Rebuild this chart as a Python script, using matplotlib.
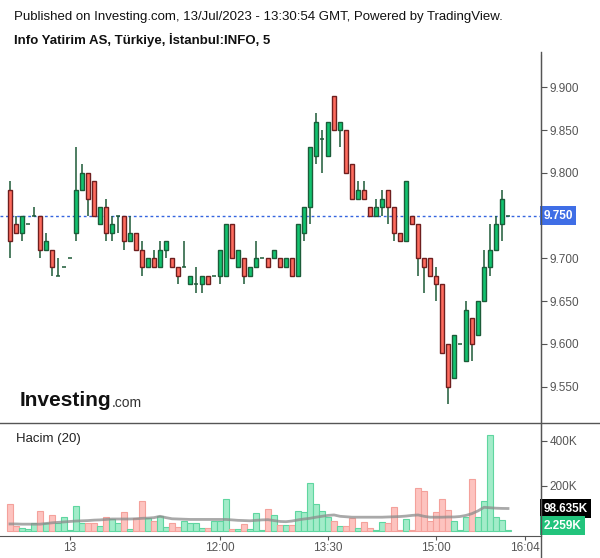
import matplotlib
matplotlib.use("Agg")
import matplotlib.pyplot as plt
from matplotlib.lines import Line2D
from matplotlib.transforms import blended_transform_factory

plt.rcParams['font.family'] = ['Liberation Sans', 'DejaVu Sans']

# 5 minute candles, Info Yatirim (INFO), 12-13 Jul 2023
opens = [9.78, 9.74, 9.73, 9.74, 9.75, 9.75, 9.71, 9.71, 9.68, 9.69,
         9.70, 9.73, 9.78, 9.80, 9.79, 9.74, 9.76, 9.73, 9.75, 9.75,
         9.72, 9.73, 9.71, 9.69, 9.70, 9.69, 9.71, 9.70, 9.69, 9.69,
         9.67, 9.67, 9.67, 9.68, 9.68, 9.68, 9.68, 9.74, 9.69, 9.70,
         9.68, 9.69, 9.70, 9.70, 9.70, 9.70, 9.69, 9.70, 9.68, 9.73,
         9.76, 9.82, 9.84, 9.82, 9.89, 9.85, 9.85, 9.81, 9.77, 9.78,
         9.76, 9.75, 9.76, 9.78, 9.76, 9.73, 9.72, 9.75, 9.74, 9.70,
         9.70, 9.68, 9.67, 9.60, 9.56, 9.60, 9.58, 9.63, 9.61, 9.65,
         9.69, 9.71, 9.74, 9.75]
highs = [9.79, 9.75, 9.75, 9.74, 9.76, 9.75, 9.73, 9.71, 9.70, 9.69,
         9.70, 9.83, 9.81, 9.80, 9.79, 9.76, 9.77, 9.75, 9.75, 9.75,
         9.75, 9.73, 9.72, 9.70, 9.71, 9.72, 9.72, 9.70, 9.69, 9.72,
         9.68, 9.69, 9.68, 9.68, 9.68, 9.71, 9.74, 9.74, 9.71, 9.70,
         9.69, 9.72, 9.70, 9.70, 9.71, 9.70, 9.70, 9.70, 9.74, 9.76,
         9.83, 9.87, 9.85, 9.86, 9.89, 9.86, 9.85, 9.81, 9.79, 9.79,
         9.76, 9.77, 9.78, 9.78, 9.76, 9.73, 9.79, 9.75, 9.74, 9.70,
         9.70, 9.69, 9.67, 9.60, 9.61, 9.60, 9.65, 9.63, 9.65, 9.71,
         9.74, 9.75, 9.78, 9.75]
lows = [9.70, 9.73, 9.72, 9.74, 9.75, 9.70, 9.71, 9.68, 9.68, 9.69,
        9.70, 9.72, 9.78, 9.75, 9.75, 9.74, 9.72, 9.72, 9.73, 9.71,
        9.72, 9.71, 9.68, 9.69, 9.69, 9.69, 9.70, 9.69, 9.67, 9.69,
        9.67, 9.66, 9.66, 9.67, 9.68, 9.67, 9.68, 9.70, 9.69, 9.67,
        9.68, 9.69, 9.70, 9.69, 9.70, 9.69, 9.69, 9.68, 9.68, 9.72,
        9.74, 9.81, 9.80, 9.82, 9.85, 9.83, 9.80, 9.77, 9.77, 9.77,
        9.75, 9.75, 9.75, 9.74, 9.72, 9.72, 9.72, 9.74, 9.68, 9.66,
        9.68, 9.65, 9.59, 9.53, 9.56, 9.60, 9.58, 9.58, 9.61, 9.65,
        9.68, 9.71, 9.72, 9.75]
closes = [9.72, 9.73, 9.75, 9.74, 9.75, 9.71, 9.72, 9.69, 9.68, 9.69,
          9.70, 9.78, 9.80, 9.77, 9.75, 9.76, 9.73, 9.74, 9.75, 9.72,
          9.73, 9.71, 9.69, 9.70, 9.69, 9.71, 9.72, 9.69, 9.68, 9.69,
          9.68, 9.67, 9.68, 9.67, 9.68, 9.71, 9.74, 9.70, 9.71, 9.68,
          9.69, 9.70, 9.70, 9.69, 9.71, 9.69, 9.70, 9.68, 9.74, 9.76,
          9.83, 9.86, 9.84, 9.86, 9.85, 9.86, 9.80, 9.77, 9.78, 9.77,
          9.75, 9.76, 9.77, 9.76, 9.73, 9.72, 9.79, 9.74, 9.70, 9.69,
          9.68, 9.67, 9.59, 9.55, 9.61, 9.60, 9.64, 9.60, 9.65, 9.69,
          9.71, 9.74, 9.77, 9.75]

# volume in thousands
volume = [117, 23, 12, 6, 34, 88, 32, 70, 32, 61,
          1, 111, 35, 35, 35, 21, 61, 52, 35, 85,
          6, 55, 134, 55, 44, 64, 15, 32, 15, 43,
          32, 35, 12, 12, 44, 44, 139, 6, 6, 29,
          6, 79, 1, 98, 69, 26, 24, 24, 88, 85,
          212, 117, 88, 61, 43, 21, 21, 56, 12, 40,
          12, 2, 40, 32, 107, 2, 52, 2, 189, 176,
          43, 84, 143, 93, 43, 3, 61, 230, 61, 130,
          424, 61, 47, 2.259]
# Hacim (20) moving average line, thousands
vol_ma = [30, 30, 29, 29, 29, 29, 32, 35, 37, 39,
          41, 43, 44, 45, 47, 48, 50, 52, 52, 52,
          52, 53, 55, 56, 58, 64, 58, 53, 52, 51,
          50, 50, 50, 50, 50, 50, 50, 48, 46, 45,
          44, 46, 48, 49, 45, 41, 40, 43, 48, 52,
          55, 60, 64, 68, 70, 64, 62, 60, 60, 60,
          60, 60, 60, 61, 62, 63, 65, 68, 70, 64,
          60, 60, 60, 61, 61, 63, 68, 76, 88, 104,
          102, 100, 99, 98.635]

price_ticks = [9.55, 9.60, 9.65, 9.70, 9.80, 9.85, 9.90]
last_price = 9.75
time_pos = [10, 35, 53, 71, 85.8]
time_labels = ["13", "12:00", "13:30", "15:00", "16:04"]

UP, UP_EDGE = "#12c36f", "#1b5c39"
DN, DN_EDGE = "#ff6b5e", "#6e1f1f"
WICK = "#1d5a37"
AXC = "#555555"

fig = plt.figure(figsize=(6, 5.58), dpi=100)
ax = fig.add_axes([0, 135 / 558, 541 / 600, 368 / 558])
axv = fig.add_axes([0, 22 / 558, 541 / 600, 113 / 558])

x = list(range(len(opens)))
for i in x:
    o, h, l, c = opens[i], highs[i], lows[i], closes[i]
    up = c >= o
    ax.vlines(i, l, h, color=WICK, lw=1.1, zorder=2)
    if o == c:
        ax.hlines(o, i - 0.38, i + 0.38, color=WICK, lw=1.1, zorder=3)
    else:
        ax.bar(i, abs(c - o), bottom=min(o, c), width=0.68,
               color=UP if up else DN, edgecolor=UP_EDGE if up else DN_EDGE,
               linewidth=1.0, zorder=3)

ax.axhline(last_price, color="#3565df", lw=1.0, ls=(0, (2, 2)), zorder=1)
ax.set_xlim(-1.667, 88.5)
ax.set_ylim(9.5076, 9.9378)
ax.yaxis.tick_right()
ax.set_yticks(price_ticks)
ax.set_yticklabels([f"{p:.3f}" for p in price_ticks])
ax.tick_params(axis="y", colors=AXC, labelsize=8.5, length=4, width=0.8, pad=2)
ax.set_xticks([])
for s in ["top", "left", "bottom"]:
    ax.spines[s].set_visible(False)
ax.spines["right"].set_color(AXC)

tr = blended_transform_factory(ax.transAxes, ax.transData)
ax.text(1.004, last_price, "9.750", transform=tr, ha="left", va="center",
        color="white", fontsize=8.5, fontweight="bold",
        bbox=dict(boxstyle="square,pad=0.3", fc="#3f6ee6", ec="none"))

# volume pane
vcol = ["#a2ecc9" if closes[i] >= opens[i] else "#fdc3bf" for i in x]
vedge = ["#5fd6a0" if closes[i] >= opens[i] else "#f4a19b" for i in x]
axv.bar(x, volume, width=1.0, color=vcol, edgecolor=vedge, linewidth=0.8)
axv.plot(x, vol_ma, color="#8c8c8c", lw=2.0, alpha=0.75)
axv.set_xlim(-1.667, 88.5)
axv.set_ylim(-23.6, 478.7)
axv.yaxis.tick_right()
axv.set_yticks([200, 400])
axv.set_yticklabels(["200K", "400K"])
axv.tick_params(axis="y", colors=AXC, labelsize=8.5, length=4, width=0.8, pad=2)
axv.set_xticks(time_pos)
axv.set_xticklabels(time_labels)
axv.tick_params(axis="x", colors=AXC, labelsize=8.5, length=3, width=0.8, pad=1)
for s in ["top", "left"]:
    axv.spines[s].set_visible(False)
axv.spines["right"].set_color(AXC)
axv.spines["bottom"].set_color(AXC)

trv = blended_transform_factory(axv.transAxes, axv.transData)
axv.text(1.004, vol_ma[-1], "98.635K", transform=trv, ha="left", va="center",
         color="white", fontsize=8.5, fontweight="bold",
         bbox=dict(boxstyle="square,pad=0.3", fc="black", ec="none"))
axv.text(1.004, volume[-1] + 20, "2.259K", transform=trv, ha="left", va="center",
         color="white", fontsize=8.5, fontweight="bold",
         bbox=dict(boxstyle="square,pad=0.3", fc="#22c47c", ec="none"))
axv.text(0.03, 0.86, "Hacim (20)", transform=axv.transAxes, fontsize=9.5,
         color="#222222", va="center")

# separators
fig.add_artist(Line2D([0, 1], [135 / 558, 135 / 558], color=AXC, lw=1.0))
fig.add_artist(Line2D([541 / 600, 541 / 600], [0, 1 - 52 / 558], color=AXC, lw=1.0))

fig.text(14 / 600, 1 - 17 / 558,
         "Published on Investing.com, 13/Jul/2023 - 13:30:54 GMT, Powered by TradingView.",
         fontsize=9.5, va="center", color="#111111")
fig.text(14 / 600, 1 - 40 / 558, "Info Yatirim AS, Türkiye, İstanbul:INFO, 5",
         fontsize=9.5, fontweight="bold", va="center", color="#111111")

# logo
fig.text(20 / 600, 1 - 401 / 558, "Investing", fontsize=15, fontweight="bold",
         va="center", color="#111111")
fig.text(112 / 600, 1 - 403 / 558, ".com", fontsize=10, va="center", color="#333333")

fig.savefig("out.png", dpi=100)
